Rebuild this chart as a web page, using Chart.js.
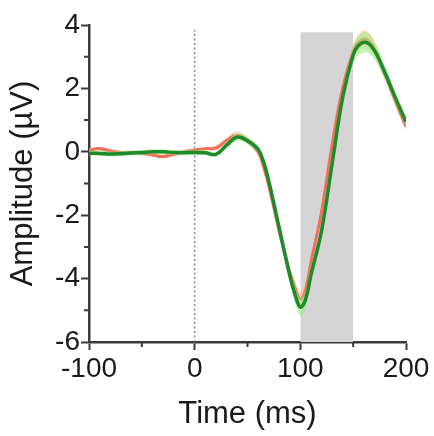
<!DOCTYPE html>
<html>
<head>
<meta charset="utf-8">
<script src="https://cdn.jsdelivr.net/npm/chart.js@4/dist/chart.umd.min.js"></script>
<style>
  html, body { margin: 0; padding: 0; background: #fff; }
  #wrap { width: 434px; height: 436px; }
</style>
</head>
<body>
<div id="wrap"><canvas id="erpChart"></canvas></div>
<script>
// time points (ms)
const time = [-100, -90, -80, -70, -60, -50, -40, -30, -20, -10, 0, 10, 20, 30, 40, 50, 60, 65, 70, 80, 90, 95, 100, 105, 110, 120, 130, 140, 150, 155, 162, 170, 180, 190, 200];

// green condition: mean amplitude (µV) and its error band
const greenMean = [-0.05, -0.05, -0.07, -0.06, -0.04, -0.02, 0.0, 0.0, -0.02, -0.03, -0.02, -0.03, -0.08, 0.2, 0.46, 0.35, 0.08, -0.3, -0.9, -2.4, -3.9, -4.5, -4.9, -4.65, -3.9, -2.5, -0.4, 1.7, 3.05, 3.35, 3.45, 3.2, 2.5, 1.7, 0.95];
const greenSem = [0.08, 0.08, 0.08, 0.08, 0.08, 0.08, 0.08, 0.08, 0.08, 0.08, 0.08, 0.08, 0.08, 0.1, 0.12, 0.12, 0.12, 0.14, 0.16, 0.2, 0.25, 0.28, 0.3, 0.28, 0.25, 0.2, 0.2, 0.22, 0.26, 0.3, 0.32, 0.28, 0.22, 0.18, 0.15];

// red condition
const redMean = [0.05, 0.1, 0.03, -0.02, -0.03, -0.05, -0.1, -0.15, -0.08, 0.0, 0.05, 0.1, 0.12, 0.35, 0.52, 0.35, 0.0, -0.45, -1.05, -2.5, -3.8, -4.3, -4.65, -4.35, -3.5, -1.9, 0.2, 2.0, 3.15, 3.45, 3.55, 3.25, 2.45, 1.6, 0.8];
const redSem = [0.06, 0.06, 0.06, 0.06, 0.06, 0.06, 0.06, 0.06, 0.06, 0.06, 0.06, 0.06, 0.08, 0.1, 0.12, 0.12, 0.12, 0.14, 0.16, 0.2, 0.22, 0.24, 0.25, 0.24, 0.22, 0.2, 0.2, 0.22, 0.24, 0.26, 0.28, 0.25, 0.2, 0.16, 0.14];

// analysis window (ms) and stimulus onset
const windowStart = 100;
const windowEnd = 150;
const windowTop = 3.77;
const onset = 0;

// axis ticks
const xMin = -100, xMax = 200, xStep = 100, xMinor = [-50, 50, 150];
const yMin = -6, yMax = 4, yStep = 2, yMinor = [-5, -3, -1, 1, 3];

const pts = (ys) => time.map((t, i) => ({ x: t, y: ys[i] }));
const axisColor = "#3a3a3a";
const textColor = "#1a1a1a";

// short minor ticks, like the original plot
const minorTicks = {
    id: "minorTicks",
    afterDraw(chart) {
        const { ctx, scales: { x, y } } = chart;
        ctx.save();
        ctx.strokeStyle = axisColor;
        ctx.lineWidth = 2;
        ctx.beginPath();
        yMinor.forEach(v => {
            const py = y.getPixelForValue(v);
            ctx.moveTo(x.left - 5, py);
            ctx.lineTo(x.left, py);
        });
        xMinor.forEach(v => {
            const px = x.getPixelForValue(v);
            ctx.moveTo(px, y.bottom);
            ctx.lineTo(px, y.bottom + 5);
        });
        ctx.stroke();
        ctx.restore();
    }
};

const ctx = document.getElementById("erpChart").getContext("2d");

new Chart(ctx, {
    type: "line",
    data: {
        datasets: [
            {   // grey analysis window
                data: [{ x: windowStart, y: windowTop }, { x: windowEnd, y: windowTop }],
                borderWidth: 0,
                pointRadius: 0,
                backgroundColor: "#d5d5d5",
                fill: "start",
                order: 10
            },
            {   // stimulus onset
                data: [{ x: onset, y: yMin }, { x: onset, y: 3.85 }],
                borderColor: "#8a8a8a",
                borderWidth: 1.5,
                borderDash: [2, 2.5],
                pointRadius: 0,
                fill: false,
                order: 9
            },
            {   // red band upper
                data: pts(redMean.map((v, i) => v + redSem[i])),
                borderWidth: 0,
                pointRadius: 0,
                tension: 0.4,
                backgroundColor: "rgba(250, 190, 160, 0.55)",
                fill: "+1",
                order: 8
            },
            {   // red band lower
                data: pts(redMean.map((v, i) => v - redSem[i])),
                borderWidth: 0,
                pointRadius: 0,
                tension: 0.4,
                fill: false,
                order: 8
            },
            {   // red mean
                data: pts(redMean),
                borderColor: "#f0705a",
                borderWidth: 3,
                pointRadius: 0,
                tension: 0.4,
                fill: false,
                order: 7
            },
            {   // green band upper
                data: pts(greenMean.map((v, i) => v + greenSem[i])),
                borderWidth: 0,
                pointRadius: 0,
                tension: 0.4,
                backgroundColor: "rgba(150, 240, 120, 0.55)",
                fill: "+1",
                order: 6
            },
            {   // green band lower
                data: pts(greenMean.map((v, i) => v - greenSem[i])),
                borderWidth: 0,
                pointRadius: 0,
                tension: 0.4,
                fill: false,
                order: 6
            },
            {   // green mean
                data: pts(greenMean),
                borderColor: "#1f8a2c",
                borderWidth: 3.5,
                pointRadius: 0,
                tension: 0.4,
                fill: false,
                order: 1
            }
        ]
    },
    options: {
        responsive: true,
        maintainAspectRatio: false,
        animation: false,
        layout: {
            padding: { top: 25, right: 28, bottom: 3, left: 0 }
        },
        plugins: {
            legend: { display: false },
            tooltip: { enabled: false }
        },
        scales: {
            x: {
                type: "linear",
                min: xMin,
                max: xMax,
                afterFit: (s) => { s.height = 91; },
                ticks: {
                    stepSize: xStep,
                    padding: 2,
                    color: textColor,
                    font: { family: "Liberation Sans", size: 28 }
                },
                grid: {
                    drawOnChartArea: false,
                    tickLength: 8,
                    tickWidth: 2,
                    tickColor: axisColor
                },
                border: { color: axisColor, width: 2.5 },
                title: {
                    display: true,
                    text: "Time (ms)",
                    color: textColor,
                    padding: 0,
                    font: { family: "Liberation Sans", size: 31 }
                }
            },
            y: {
                min: yMin,
                max: yMax,
                afterFit: (s) => { s.width = 89; },
                ticks: {
                    stepSize: yStep,
                    padding: 1,
                    color: textColor,
                    font: { family: "Liberation Sans", size: 28 }
                },
                grid: {
                    drawOnChartArea: false,
                    tickLength: 8,
                    tickWidth: 2,
                    tickColor: axisColor
                },
                border: { color: axisColor, width: 2.5 },
                title: {
                    display: true,
                    text: "Amplitude (µV)",
                    color: textColor,
                    padding: { top: 5, bottom: 0 },
                    font: { family: "Liberation Sans", size: 31 }
                }
            }
        }
    },
    plugins: [minorTicks]
});
</script>
</body>
</html>
